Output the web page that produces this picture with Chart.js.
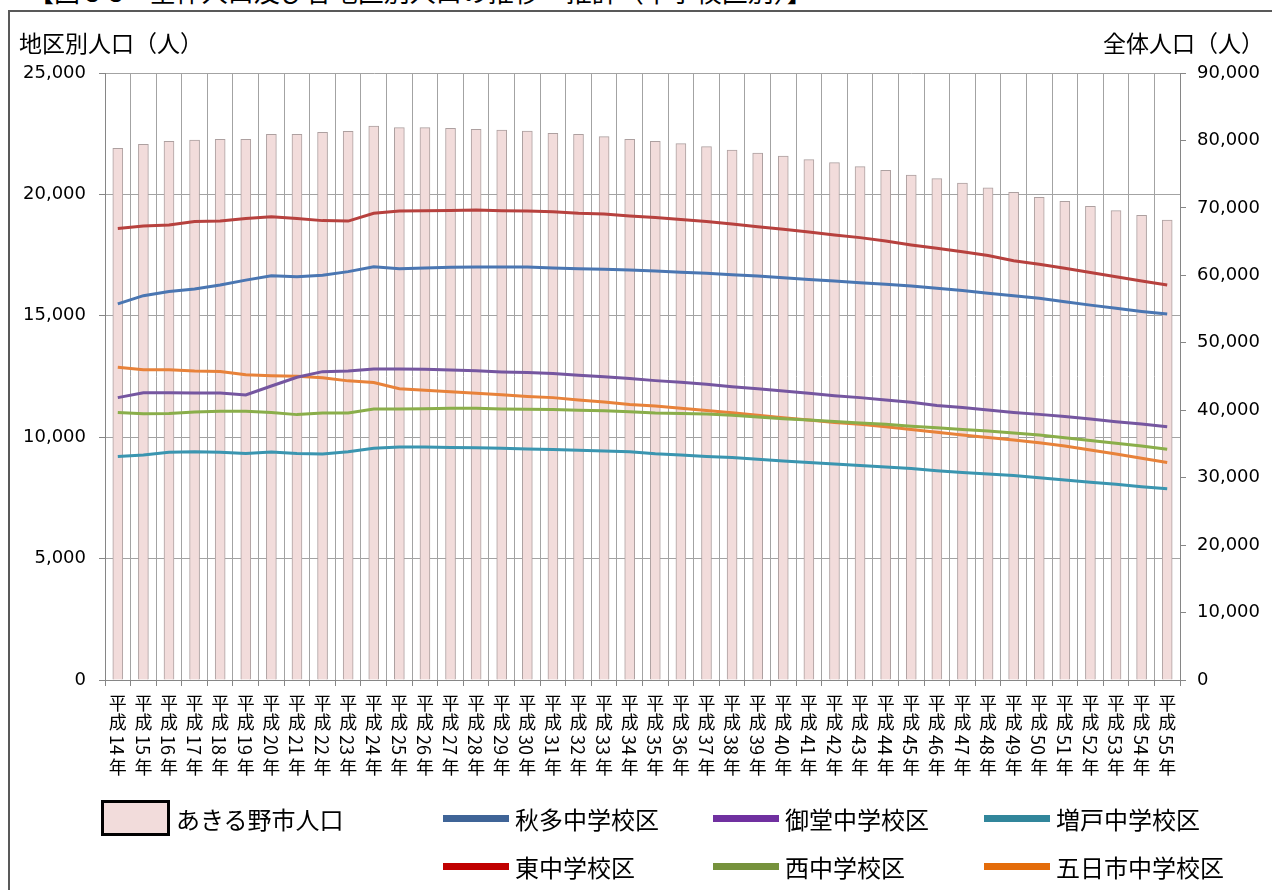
<!DOCTYPE html>
<html lang="ja">
<head>
<meta charset="utf-8">
<title>全体人口及び各地区別人口の推移・推計</title>
<script src="https://cdn.jsdelivr.net/npm/chart.js@4.4.1/dist/chart.umd.min.js"></script>
<style>
  html, body { margin: 0; padding: 0; background: #fff; overflow: hidden; }
  body { width: 1272px; height: 890px; position: relative; font-family: "Noto Sans CJK JP", sans-serif; color: #000; }
  #frame { position: absolute; left: 8px; top: 10px; width: 1300px; height: 900px; border-left: 2px solid #595959; border-top: 2px solid #595959; }
  #fig-title { position: absolute; left: 28px; top: -22px; font-size: 26px; line-height: 26px; white-space: nowrap; }
  .axis-title { position: absolute; top: 27px; font-size: 23px; line-height: 30px; white-space: nowrap; }
  #left-title { left: 19px; }
  #right-title { right: 8px; }
  #chart { position: absolute; left: 0; top: 0; }
  .legend-item { position: absolute; display: flex; align-items: center; font-size: 24px; white-space: nowrap; }
  .legend-line { width: 66px; height: 7px; margin-right: 6px; }
  .legend-box { width: 63px; height: 30px; border: 3px solid #000; background: #F2DCDB; margin-right: 6px; box-sizing: content-box; }
</style>
</head>
<body>
<div id="fig-title">【図 3-3　全体人口及び各地区別人口の推移・推計（中学校区別）】</div>
<div id="frame"></div>
<canvas id="chart" width="1272" height="890"></canvas>
<div class="axis-title" id="left-title">地区別人口（人）</div>
<div class="axis-title" id="right-title">全体人口（人）</div>
<div id="legend"></div>

<script>
// Years (categories)
const years = [
    '平成14年', '平成15年', '平成16年', '平成17年', '平成18年', '平成19年', '平成20年',
    '平成21年', '平成22年', '平成23年', '平成24年', '平成25年', '平成26年', '平成27年',
    '平成28年', '平成29年', '平成30年', '平成31年', '平成32年', '平成33年', '平成34年',
    '平成35年', '平成36年', '平成37年', '平成38年', '平成39年', '平成40年', '平成41年',
    '平成42年', '平成43年', '平成44年', '平成45年', '平成46年', '平成47年', '平成48年',
    '平成49年', '平成50年', '平成51年', '平成52年', '平成53年', '平成54年', '平成55年'
];

// あきる野市人口 (right axis)
const cityTotal = [
    78820, 79420, 79870, 80070, 80170, 80170, 80910, 80910, 81200, 81350, 82140,
    81890, 81890, 81790, 81640, 81550, 81400, 81050, 80910, 80560, 80170,
    79870, 79520, 79080, 78580, 78140, 77690, 77150, 76700, 76110, 75570,
    74880, 74330, 73690, 72990, 72300, 71560, 70970, 70230, 69590, 68900, 68210
];

// 中学校区別人口 (left axis)
const akita = [
    15490, 15830, 16000, 16100, 16270, 16470, 16650, 16610, 16670, 16820, 17020,
    16940, 16970, 17000, 17010, 17010, 17010, 16970, 16940, 16920, 16890,
    16850, 16790, 16750, 16690, 16640, 16570, 16500, 16430, 16360, 16300,
    16230, 16130, 16040, 15930, 15830, 15720, 15580, 15440, 15310, 15180, 15070
];
const midou = [
    11630, 11830, 11830, 11820, 11820, 11740, 12110, 12470, 12700, 12730, 12810,
    12810, 12800, 12770, 12740, 12690, 12660, 12620, 12550, 12490, 12420,
    12330, 12260, 12180, 12080, 12000, 11900, 11810, 11710, 11630, 11530,
    11440, 11310, 11220, 11120, 11020, 10940, 10850, 10750, 10640, 10540, 10430
];
const masuko = [
    9210, 9270, 9380, 9400, 9380, 9330, 9390, 9330, 9310, 9400, 9540,
    9600, 9600, 9580, 9570, 9540, 9510, 9490, 9460, 9430, 9400,
    9320, 9270, 9210, 9160, 9090, 9020, 8960, 8900, 8830, 8770,
    8710, 8620, 8550, 8480, 8420, 8330, 8240, 8140, 8060, 7960, 7880
];
const higashi = [
    18600, 18700, 18740, 18880, 18900, 19010, 19080, 19010, 18920, 18900, 19220,
    19320, 19330, 19340, 19360, 19330, 19320, 19290, 19220, 19190, 19110,
    19050, 18970, 18880, 18780, 18670, 18560, 18450, 18330, 18220, 18080,
    17920, 17780, 17640, 17480, 17270, 17120, 16960, 16780, 16610, 16430, 16270
];
const nishi = [
    11020, 10970, 10980, 11040, 11070, 11070, 11020, 10930, 11000, 11000, 11160,
    11160, 11170, 11190, 11190, 11160, 11150, 11140, 11110, 11090, 11050,
    11000, 10980, 10960, 10900, 10830, 10760, 10710, 10650, 10580, 10530,
    10450, 10390, 10320, 10260, 10170, 10090, 9980, 9860, 9750, 9640, 9500
];
const itsukaichi = [
    12880, 12780, 12780, 12730, 12710, 12570, 12530, 12510, 12450, 12320, 12250,
    12000, 11930, 11870, 11810, 11750, 11680, 11630, 11530, 11450, 11350,
    11280, 11190, 11100, 11010, 10900, 10800, 10710, 10610, 10530, 10430,
    10320, 10200, 10090, 9990, 9880, 9770, 9640, 9470, 9310, 9130, 8960
];

// Tick values
const leftTicks = [0, 5000, 10000, 15000, 20000, 25000];
const rightTicks = [0, 10000, 20000, 30000, 40000, 50000, 60000, 70000, 80000, 90000];

const districts = [
    { name: '秋多中学校区',   data: akita,      line: '#4A76B2', swatch: '#3F6497' },
    { name: '御堂中学校区',   data: midou,      line: '#7556A0', swatch: '#7030A0' },
    { name: '増戸中学校区',   data: masuko,     line: '#3A95B0', swatch: '#31869B' },
    { name: '東中学校区',     data: higashi,    line: '#B7413E', swatch: '#C00000' },
    { name: '西中学校区',     data: nishi,      line: '#8AAE4A', swatch: '#76923C' },
    { name: '五日市中学校区', data: itsukaichi, line: '#E8823A', swatch: '#E46C0A' }
];

const numFont = '"DejaVu Sans", "Noto Sans CJK JP", sans-serif';
const gridGray = '#A3A3A3';
const axisGray = '#868686';

// Year labels in vertical writing: kanji upright, digits turned sideways
const verticalLabels = {
    id: 'verticalLabels',
    afterDraw(chart) {
        const ctx = chart.ctx;
        const xScale = chart.scales.x;
        ctx.save();
        ctx.font = '18px "Noto Sans CJK JP"';
        ctx.fillStyle = '#000';
        ctx.textAlign = 'center';
        ctx.textBaseline = 'middle';
        years.forEach((label, i) => {
            const x = xScale.getPixelForTick(i);
            let y = xScale.top + 14;
            label.match(/\d+|./g).forEach(part => {
                if (/\d/.test(part)) {
                    const w = ctx.measureText(part).width;
                    y += 3;
                    ctx.save();
                    ctx.translate(x, y + w / 2);
                    ctx.rotate(Math.PI / 2);
                    ctx.fillText(part, 0, 1);
                    ctx.restore();
                    y += w + 3;
                } else {
                    ctx.fillText(part, x, y + 9.5);
                    y += 19;
                }
            });
        });
        ctx.restore();
    }
};

const ctx = document.getElementById('chart').getContext('2d');
new Chart(ctx, {
    type: 'bar',
    data: {
        labels: years,
        datasets: [
            ...districts.map(d => ({
                type: 'line',
                label: d.name,
                data: d.data,
                yAxisID: 'y',
                borderColor: d.line,
                backgroundColor: d.line,
                borderWidth: 3,
                pointRadius: 0,
                tension: 0,
                order: 1
            })),
            {
                type: 'bar',
                label: 'あきる野市人口',
                data: cityTotal,
                yAxisID: 'y1',
                backgroundColor: '#F2DCDB',
                borderColor: '#ADA0A0',
                borderWidth: 1,
                barThickness: 10,
                order: 10
            }
        ]
    },
    options: {
        responsive: false,
        animation: false,
        devicePixelRatio: 1,
        layout: { padding: { top: 73, left: 0, right: 0, bottom: 0 } },
        plugins: {
            legend: { display: false },
            tooltip: { enabled: false }
        },
        scales: {
            x: {
                offset: true,
                grid: { offset: true, color: gridGray, tickLength: 6, tickColor: axisGray },
                border: { color: axisGray },
                ticks: { display: false },
                afterFit: scale => { scale.height = 210; }
            },
            y: {
                position: 'left',
                min: 0,
                max: 25000,
                afterBuildTicks: scale => { scale.ticks = leftTicks.map(v => ({ value: v })); },
                grid: { color: gridGray, tickLength: 6, tickColor: axisGray },
                border: { color: axisGray },
                ticks: {
                    padding: 13,
                    color: '#000',
                    font: { family: numFont, size: 18 },
                    callback: v => v.toLocaleString('en-US')
                },
                afterFit: scale => { scale.width = 105; }
            },
            y1: {
                position: 'right',
                min: 0,
                max: 90000,
                afterBuildTicks: scale => { scale.ticks = rightTicks.map(v => ({ value: v })); },
                grid: { drawOnChartArea: false, tickLength: 6, tickColor: axisGray },
                border: { color: axisGray },
                ticks: {
                    padding: 11,
                    color: '#000',
                    font: { family: numFont, size: 18 },
                    callback: v => v.toLocaleString('en-US')
                },
                afterFit: scale => { scale.width = 92; }
            }
        }
    },
    plugins: [verticalLabels]
});

// Legend laid out in two rows, the bar item alone on the left
function buildLegend() {
    const legend = document.getElementById('legend');
    const slots = [[443, 818], [713, 818], [984, 818], [443, 866], [713, 866], [984, 866]];

    const barItem = document.createElement('div');
    barItem.className = 'legend-item';
    barItem.style.left = '101px';
    barItem.style.top = (818 - 18) + 'px';
    barItem.innerHTML = '<span class="legend-box"></span><span>あきる野市人口</span>';
    legend.appendChild(barItem);

    districts.forEach((d, i) => {
        const item = document.createElement('div');
        item.className = 'legend-item';
        item.style.left = slots[i][0] + 'px';
        item.style.top = (slots[i][1] - 17) + 'px';
        item.style.height = '34px';
        item.innerHTML = `<span class="legend-line" style="background:${d.swatch}"></span><span>${d.name}</span>`;
        legend.appendChild(item);
    });
}

buildLegend();
</script>
</body>
</html>
